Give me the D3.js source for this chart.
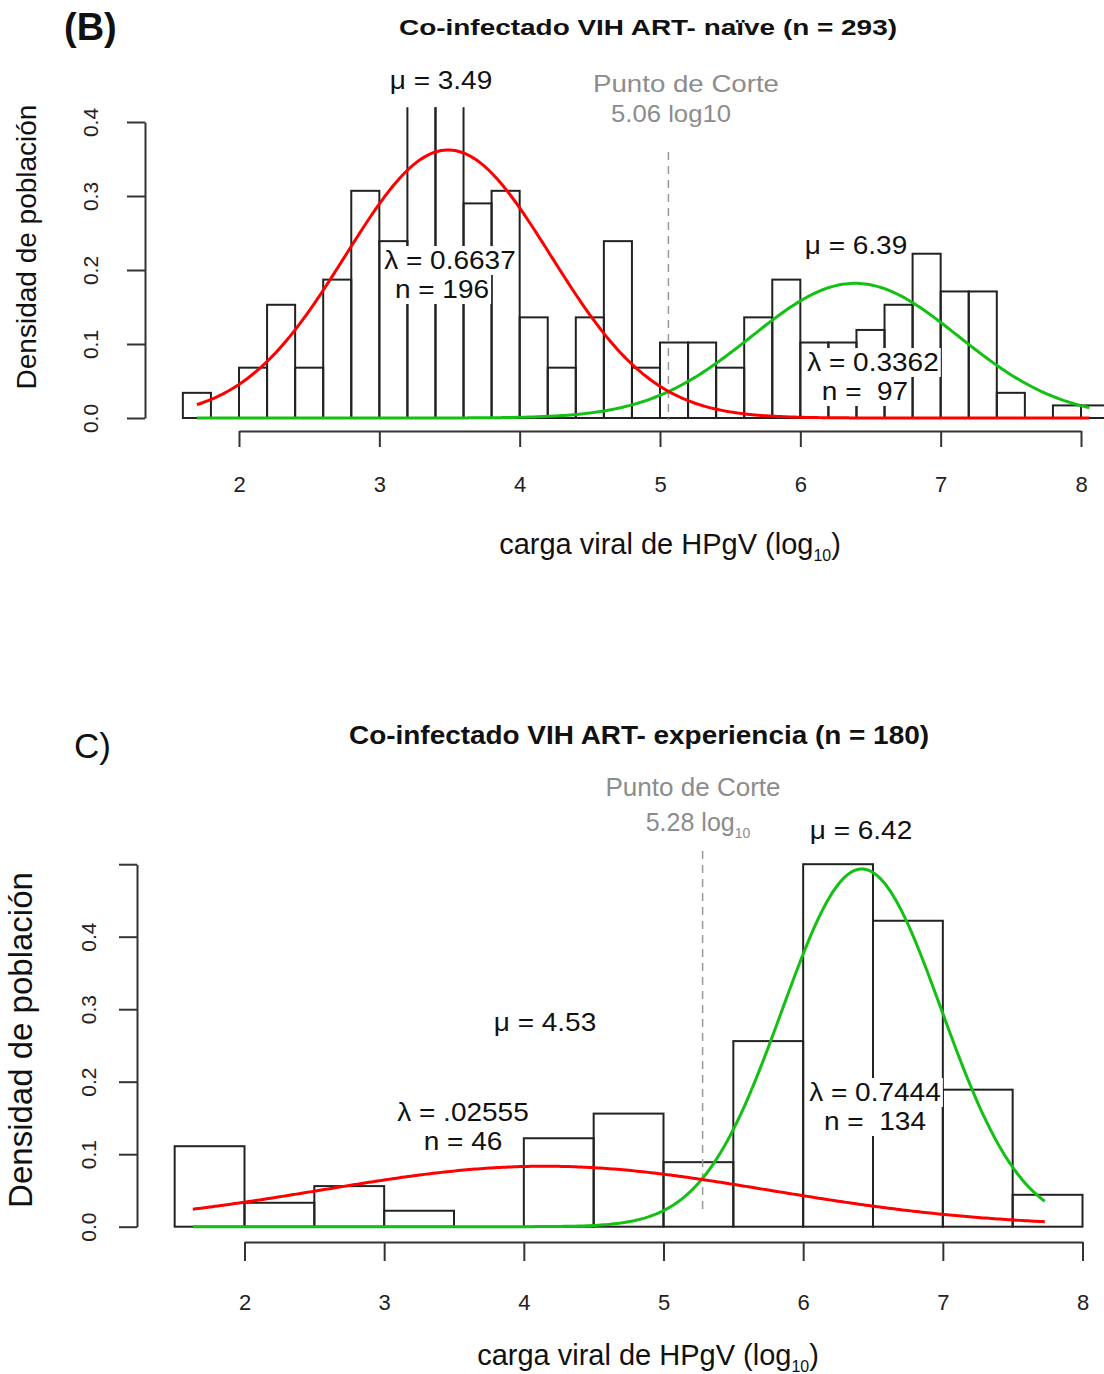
<!DOCTYPE html>
<html>
<head>
<meta charset="utf-8">
<script src="https://cdn.jsdelivr.net/npm/d3@7"></script>
<style>
body { margin: 0; background: #fff; }
svg text { font-family: "Liberation Sans", Arial, sans-serif; }
</style>
</head>
<body>
<svg id="chart" width="1104" height="1374"></svg>
<script>
// ---- panel (B): ART-naive, histogram bins of 0.2 log10 ----
var naiveBinStart = [1.6, 1.8, 2.0, 2.2, 2.4, 2.6, 2.8, 3.0, 3.2, 3.4, 3.6, 3.8, 4.0, 4.2, 4.4, 4.6, 4.8,
                     5.0, 5.2, 5.4, 5.6, 5.8, 6.0, 6.2, 6.4, 6.6, 6.8, 7.0, 7.2, 7.4, 7.6, 7.8, 8.0];
var naiveDensity  = [0.034, 0, 0.068, 0.153, 0.068, 0.187, 0.307, 0.239, 0.48, 0.51, 0.29, 0.307, 0.136, 0.068, 0.136, 0.239, 0.068,
                     0.102, 0.102, 0.068, 0.136, 0.187, 0.102, 0.102, 0.119, 0.153, 0.222, 0.171, 0.171, 0.034, 0, 0.017, 0.017];
var naiveBinWidth = 0.2;
var naiveMu     = [3.49, 6.39];
var naiveSd     = [0.731, 0.737];
var naiveLambda = [0.6637, 0.3362];
var naiveCut = 5.06;

// ---- panel C): ART-experienced, histogram bins of 0.5 log10 ----
var expBinStart = [1.5, 2.0, 2.5, 3.0, 3.5, 4.0, 4.5, 5.0, 5.5, 6.0, 6.5, 7.0, 7.5];
var expDensity  = [0.111, 0.033, 0.056, 0.022, 0, 0.122, 0.156, 0.089, 0.256, 0.5, 0.422, 0.189, 0.044];
var expBinWidth = 0.5;
var expMu     = [4.15, 6.42];
var expSd     = [1.6, 0.57];
var expLambda = [0.3345, 0.705];
var expCut = 5.28;

var xTicks = [2, 3, 4, 5, 6, 7, 8];
var curveColors = ["#ff0000", "#14c014"];

var svg = d3.select("#chart");

function normal(x, mu, sd, w) {
    return w * Math.exp(-(x - mu) * (x - mu) / (2 * sd * sd)) / (sd * Math.sqrt(2 * Math.PI));
}

function drawPanel(p) {
    var g = svg.append("g");
    var xScale = d3.scaleLinear().domain([2, 8]).range(p.xRange);
    var yScale = d3.scaleLinear().domain([0, p.yMax]).range(p.yRange);

    var clipId = "clip" + p.id;
    g.append("clipPath").attr("id", clipId)
        .append("rect")
        .attr("x", 0).attr("width", 1104)
        .attr("y", yScale(p.clipTop)).attr("height", p.yRange[0] - yScale(p.clipTop) + 2);

    var gBars = g.append("g").attr("clip-path", "url(#" + clipId + ")");
    var gMask = g.append("g");
    var gCurves = g.append("g");
    var gText = g.append("g");

    // histogram bars
    gBars.selectAll("rect")
        .data(p.bins)
        .enter()
        .append("rect")
        .attr("x", d => xScale(d.x0))
        .attr("width", d => xScale(d.x0 + p.binWidth) - xScale(d.x0))
        .attr("y", d => yScale(d.density))
        .attr("height", d => yScale(0) - yScale(d.density))
        .attr("fill", "none")
        .attr("stroke", "#222")
        .attr("stroke-width", 2);

    // cutoff
    gBars.append("line")
        .attr("x1", xScale(p.cut)).attr("x2", xScale(p.cut))
        .attr("y1", p.cutY[0]).attr("y2", p.cutY[1])
        .attr("stroke", "#999")
        .attr("stroke-width", 1.5)
        .attr("stroke-dasharray", "8,6");

    // mixture components
    var line = d3.line().x(d => xScale(d[0])).y(d => yScale(d[1]));
    var xs = d3.range(p.curveRange[0], p.curveRange[1] + 0.001, 0.02);
    [1, 0].forEach(function (k) {
        var pts = xs.map(x => [x, normal(x, p.mu[k], p.sd[k], p.lambda[k])]);
        gCurves.append("path")
            .attr("d", line(pts))
            .attr("fill", "none")
            .attr("stroke", curveColors[k])
            .attr("stroke-width", 3);
    });

    // axes
    var xAxis = d3.axisBottom(xScale).tickValues(xTicks).tickSize(p.xTickLen).tickSizeOuter(0).tickPadding(p.xTickPad)
        .tickFormat(d3.format("d"));
    var gx = g.append("g")
        .attr("transform", "translate(0," + p.xAxisY + ")")
        .call(xAxis);
    gx.selectAll("path, line").attr("stroke", "#333").attr("stroke-width", 2);
    gx.selectAll("text")
        .attr("font-family", "'Open Sans', sans-serif")
        .attr("font-size", 22)
        .attr("fill", "#222");

    var yAxis = d3.axisLeft(yScale).tickValues(p.yTicks).tickSize(18).tickSizeOuter(0)
        .tickFormat(d => d > 0.45 ? "" : d3.format(".1f")(d));
    var gy = g.append("g")
        .attr("transform", "translate(" + p.yAxisX + ",0)")
        .call(yAxis);
    gy.selectAll("path, line").attr("stroke", "#333").attr("stroke-width", 2);
    gy.selectAll("text")
        .attr("font-family", "'Liberation Sans', Arial, sans-serif")
        .attr("font-size", 21)
        .attr("fill", "#222")
        .attr("text-anchor", "middle")
        .attr("x", 0)
        .attr("y", 0)
        .attr("dy", "0.35em")
        .attr("transform", "translate(" + (p.yTickLabelX - p.yAxisX) + ",0) rotate(-90)");

    // axis titles
    var xt = gText.append("text")
        .attr("x", p.xTitle[0]).attr("y", p.xTitle[1])
        .attr("text-anchor", "middle")
        .attr("font-size", p.xTitleSize)
        .attr("fill", "#111");
    xt.append("tspan").text("carga viral de HPgV (log");
    xt.append("tspan").text("10").attr("font-size", p.xTitleSize * 0.55).attr("dy", 7);
    xt.append("tspan").text(")").attr("dy", -7);

    gText.append("text")
        .attr("transform", "translate(" + p.yTitle[0] + "," + p.yTitle[1] + ") rotate(-90)")
        .attr("text-anchor", "middle")
        .attr("font-size", p.yTitleSize)
        .attr("fill", "#111")
        .text("Densidad de población");

    // title and panel letter
    gText.append("text")
        .attr("x", p.title[0]).attr("y", p.title[1])
        .attr("text-anchor", "middle")
        .attr("font-weight", "bold")
        .attr("font-size", p.titleSize)
        .attr("textLength", p.titleLen)
        .attr("lengthAdjust", "spacingAndGlyphs")
        .attr("fill", "#111")
        .text(p.titleText);

    gText.append("text")
        .attr("x", p.letter[0]).attr("y", p.letter[1])
        .attr("font-weight", p.letterBold ? "bold" : "normal")
        .attr("font-size", p.letterSize)
        .attr("fill", "#111")
        .text(p.letterText);

    // cutoff label
    gText.append("text")
        .attr("x", p.cutLabel[0]).attr("y", p.cutLabel[1])
        .attr("text-anchor", "middle")
        .attr("font-family", "Lato, sans-serif")
        .attr("font-size", p.cutSize)
        .attr("textLength", p.cutLen[0])
        .attr("lengthAdjust", "spacingAndGlyphs")
        .attr("fill", "#8c8c8c")
        .text("Punto de Corte");
    var cl = gText.append("text")
        .attr("x", p.cutLabel2[0]).attr("y", p.cutLabel2[1])
        .attr("text-anchor", "middle")
        .attr("font-family", "Lato, sans-serif")
        .attr("font-size", p.cutSize)
        .attr("fill", "#8c8c8c");
    if (p.cutSub) {
        cl.append("tspan").text(p.cut.toFixed(2) + " log");
        cl.append("tspan").text("10").attr("font-size", 14).attr("dy", 7);
    } else {
        cl.text(p.cut.toFixed(2) + " log10")
            .attr("textLength", p.cutLen[1])
            .attr("lengthAdjust", "spacingAndGlyphs");
    }

    // parameter annotations (slightly widened glyphs, as in the original)
    p.notes.forEach(function (n) {
        var t = gText.append("text")
            .attr("x", n.x).attr("y", n.y)
            .attr("text-anchor", "middle")
            .attr("font-size", 25)
            .attr("fill", "#111")
            .attr("xml:space", "preserve")
            .text(n.text);
        var w = t.node().getComputedTextLength();
        t.attr("textLength", w * 1.12).attr("lengthAdjust", "spacingAndGlyphs");
        if (n.mask) {
            var b = t.node().getBBox();
            gMask.append("rect")
                .attr("x", b.x - 2).attr("y", b.y)
                .attr("width", b.width + 4).attr("height", b.height + 1)
                .attr("fill", "#fff");
        }
    });
}

drawPanel({
    id: "B",
    bins: naiveBinStart.map((x0, i) => ({x0: x0, density: naiveDensity[i]})),
    binWidth: naiveBinWidth,
    mu: naiveMu, sd: naiveSd, lambda: naiveLambda, cut: naiveCut,
    xRange: [239, 1081], yRange: [418, 122], yMax: 0.4, clipTop: 0.42,
    yTicks: [0, 0.1, 0.2, 0.3, 0.4],
    yAxisX: 145, yTickLabelX: 91,
    xAxisY: 431, xTickLen: 16, xTickPad: 29, curveRange: [1.7, 8.06], cutY: [152, 431],
    xTitle: [670, 554], xTitleSize: 29,
    yTitle: [36, 247], yTitleSize: 28,
    title: [648, 35], titleSize: 22, titleLen: 498,
    titleText: "Co-infectado VIH ART- naïve (n = 293)",
    letter: [64, 40], letterSize: 38, letterBold: true, letterText: "(B)",
    cutLabel: [686, 92], cutLabel2: [671, 122], cutSub: false, cutSize: 24, cutLen: [186, 120],
    notes: [
        {x: 441, y: 89, text: "μ = 3.49"},
        {x: 450, y: 269, text: "λ = 0.6637", mask: true},
        {x: 442, y: 298, text: "n = 196", mask: true},
        {x: 856, y: 254, text: "μ = 6.39"},
        {x: 873, y: 371, text: "λ = 0.3362", mask: true},
        {x: 865, y: 400, text: "n =  97", mask: true}
    ]
});

drawPanel({
    id: "C",
    bins: expBinStart.map((x0, i) => ({x0: x0, density: expDensity[i]})),
    binWidth: expBinWidth,
    mu: expMu, sd: expSd, lambda: expLambda, cut: expCut,
    xRange: [244.5, 1082.5], yRange: [1226.7, 864.2], yMax: 0.5, clipTop: 0.52,
    yTicks: [0, 0.1, 0.2, 0.3, 0.4, 0.5],
    yAxisX: 137, yTickLabelX: 89,
    xAxisY: 1242, xTickLen: 19, xTickPad: 33, curveRange: [1.63, 7.73], cutY: [851, 1212],
    xTitle: [648, 1365], xTitleSize: 29,
    yTitle: [32, 1040], yTitleSize: 33,
    title: [639, 744], titleSize: 26, titleLen: 580,
    titleText: "Co-infectado VIH ART- experiencia (n = 180)",
    letter: [74, 758], letterSize: 35, letterBold: false, letterText: "C)",
    cutLabel: [693, 796], cutLabel2: [698, 831], cutSub: true, cutSize: 25, cutLen: [175, 110],
    notes: [
        {x: 861, y: 839, text: "μ = 6.42"},
        {x: 545, y: 1031, text: "μ = 4.53"},
        {x: 463, y: 1121, text: "λ = .02555"},
        {x: 463, y: 1150, text: "n = 46"},
        {x: 875, y: 1101, text: "λ = 0.7444", mask: true},
        {x: 875, y: 1130, text: "n =  134", mask: true}
    ]
});
</script>
</body>
</html>
